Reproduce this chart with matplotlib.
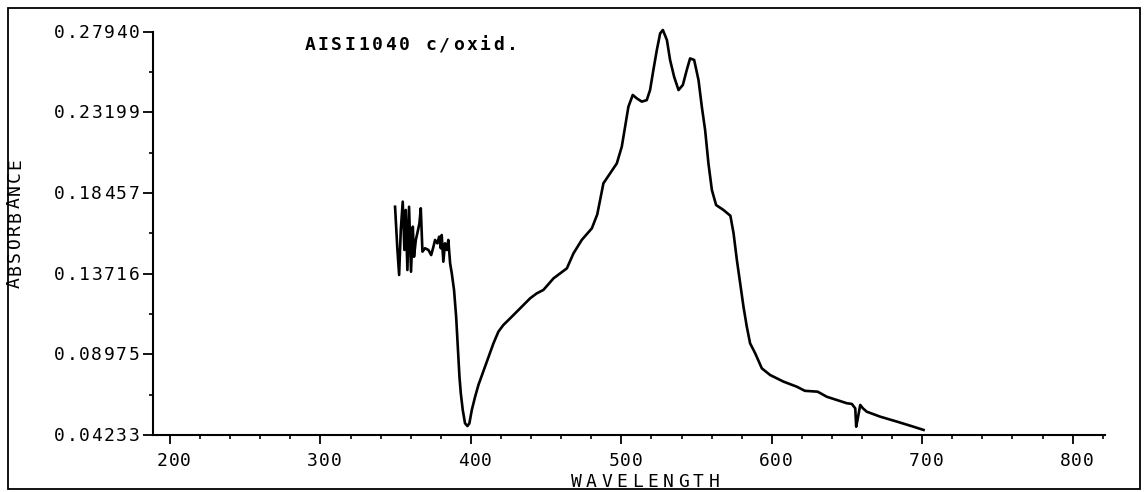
import matplotlib
matplotlib.use("Agg")
import matplotlib.pyplot as plt
from matplotlib.patches import Rectangle
from matplotlib.ticker import FixedLocator, MultipleLocator
from matplotlib.transforms import ScaledTranslation

# Absorbance spectrum of oxidised AISI 1040 steel
wavelength = [
    349.6, 351.1, 352.3, 353.4, 354.7, 355.8, 356.7, 357.8, 358.9, 360.2,
    361.4, 362.2, 363.4, 364.4, 365.8, 366.7, 367.8, 369.5, 371.8, 373.6,
    375.1, 376.2, 377.7, 378.9, 380.0, 380.6, 381.7, 382.8, 384.0, 385.0,
    386.2, 387.3, 388.8, 390.2, 391.3, 392.4, 393.3, 394.6, 396.1, 397.7,
    399.0, 400.6, 402.8, 405.0, 409.4, 415.0, 418.3, 421.6, 426.1, 430.5,
    434.9, 439.4, 443.8, 448.2, 454.9, 463.8, 468.2, 473.7, 480.4, 484.0,
    488.1, 492.6, 497.0, 500.3, 502.5, 504.7, 507.6, 510.3, 513.6, 516.9,
    519.1, 521.3, 523.6, 525.8, 527.6, 530.3, 532.4, 535.1, 538.0, 540.9,
    543.5, 545.7, 548.4, 551.3, 553.5, 555.7, 557.9, 560.2, 563.0, 567.9,
    572.5, 574.6, 576.8, 579.0, 581.2, 583.4, 585.6, 589.0, 593.4, 598.9,
    607.8, 616.7, 622.0, 630.5, 636.6, 649.9, 653.2, 655.5, 656.1, 657.0,
    658.8, 660.6, 663.2, 672.1, 683.2, 694.2, 700.9,
]
absorbance = [
    0.1765, 0.1521, 0.1364, 0.1628, 0.1795, 0.1511, 0.1746, 0.1393, 0.1765, 0.1383,
    0.1648, 0.1471, 0.1570, 0.1609, 0.1668, 0.1756, 0.1501, 0.1521, 0.1511, 0.1481,
    0.1530, 0.1570, 0.1550, 0.1589, 0.1521, 0.1599, 0.1442, 0.1550, 0.1511, 0.1570,
    0.1432, 0.1374, 0.1276, 0.1119, 0.0942, 0.0766, 0.0668, 0.0570, 0.0492, 0.0476,
    0.0492, 0.0570, 0.0648, 0.0717, 0.0825, 0.0962, 0.1031, 0.1070, 0.1109, 0.1148,
    0.1187, 0.1227, 0.1256, 0.1276, 0.1344, 0.1403, 0.1491, 0.1570, 0.1638, 0.1720,
    0.1903, 0.1962, 0.2020, 0.2118, 0.2235, 0.2353, 0.2422, 0.2402, 0.2383, 0.2392,
    0.2451, 0.2569, 0.2686, 0.2784, 0.2804, 0.2745, 0.2628, 0.2529, 0.2451, 0.2481,
    0.2569, 0.2637, 0.2628, 0.2510, 0.2353, 0.2216, 0.2020, 0.1863, 0.1775, 0.1746,
    0.1712, 0.1609, 0.1452, 0.1315, 0.1177, 0.1060, 0.0962, 0.0903, 0.0815, 0.0776,
    0.0737, 0.0707, 0.0683, 0.0678, 0.0648, 0.0610, 0.0606, 0.0580, 0.0472, 0.0512,
    0.0600, 0.0580, 0.0560, 0.0531, 0.0502, 0.0472, 0.0453,
]

y_ticks = [0.04233, 0.08975, 0.13716, 0.18457, 0.23199, 0.27940]
y_tick_labels = ["0.04233", "0.08975", "0.13716", "0.18457", "0.23199", "0.27940"]
x_ticks = [200, 300, 400, 500, 600, 700, 800]
x_tick_labels = ["200", "300", "400", "500", "600", "700", "800"]

title = "AISI1040 c/oxid."
x_label = "WAVELENGTH"
y_label = "ABSORBANCE"

W, H = 1147, 492
fig = plt.figure(figsize=(W / 100, H / 100), dpi=100)
fig.patch.set_facecolor("white")

ax = fig.add_axes([152.7 / W, 1 - 435 / H, (1105 - 152.7) / W, (435 - 31.7) / H])
ax.set_xlim(188.5, 821.5)
ax.set_ylim(y_ticks[0], y_ticks[-1])

ax.plot(wavelength, absorbance, color="black", lw=1.9, clip_on=False,
        solid_joinstyle="round")

MONO = "DejaVu Sans Mono"


def plotter_text(x, y, s, pitch, trans, anchor="center", vertical=False,
                 dx=0.0, dy=0.0, size=13, **kw):
    """Draw a string with a fixed character pitch (pixels), like a pen plotter."""
    n = len(s)
    start = {"center": -n * pitch / 2, "left": 0.0, "right": -n * pitch}[anchor]
    for i, ch in enumerate(s):
        off = start + (i + 0.5) * pitch
        if vertical:
            shift = ScaledTranslation(dx / 100, (dy + off) / 100, fig.dpi_scale_trans)
        else:
            shift = ScaledTranslation((dx + off) / 100, dy / 100, fig.dpi_scale_trans)
        fig.text(x, y, ch, transform=trans + shift, ha="center", va="center",
                 rotation=90 if vertical else 0, fontfamily=MONO, fontsize=size,
                 **kw)


for side in ("top", "right"):
    ax.spines[side].set_visible(False)
for side in ("left", "bottom"):
    ax.spines[side].set_linewidth(1.5)

ax.set_yticks(y_ticks)
mids = [(a + b) / 2 for a, b in zip(y_ticks[:-1], y_ticks[1:])]
ax.yaxis.set_minor_locator(FixedLocator(mids))
ax.set_xticks(x_ticks)
ax.xaxis.set_minor_locator(MultipleLocator(20))

ax.tick_params(axis="y", which="major", direction="out", length=7, width=1.3,
               labelleft=False)
ax.tick_params(axis="y", which="minor", direction="out", length=3, width=1.2)
ax.tick_params(axis="x", which="major", direction="out", length=6.5, width=1.3,
               labelbottom=False)
ax.tick_params(axis="x", which="minor", direction="out", length=3, width=1.2)

# tick labels in plotter lettering
for val, lab in zip(y_ticks, y_tick_labels):
    plotter_text(0, val, lab, 12.4, ax.get_yaxis_transform(), anchor="right",
                 dx=-12.5, dy=-1)
for val, lab in zip(x_ticks, x_tick_labels):
    plotter_text(val, 0, lab, 11.7, ax.get_xaxis_transform(), dx=4, dy=-26)

plotter_text(303 / W, 1 - 45 / H, title, 13.5, fig.transFigure, anchor="left",
             size=13, fontweight="bold")
plotter_text(15 / W, 1 - 223 / H, y_label, 13.3, fig.transFigure, vertical=True)
plotter_text(645 / W, 1 - 482 / H, x_label, 15.3, fig.transFigure)

# plotter frame around the sheet
fig.patches.append(Rectangle((8 / W, 3 / H), (1140 - 8) / W, (489 - 8) / H,
                             transform=fig.transFigure, fill=False,
                             edgecolor="black", lw=1.3))

fig.savefig("out.png", dpi=100, facecolor="white")
